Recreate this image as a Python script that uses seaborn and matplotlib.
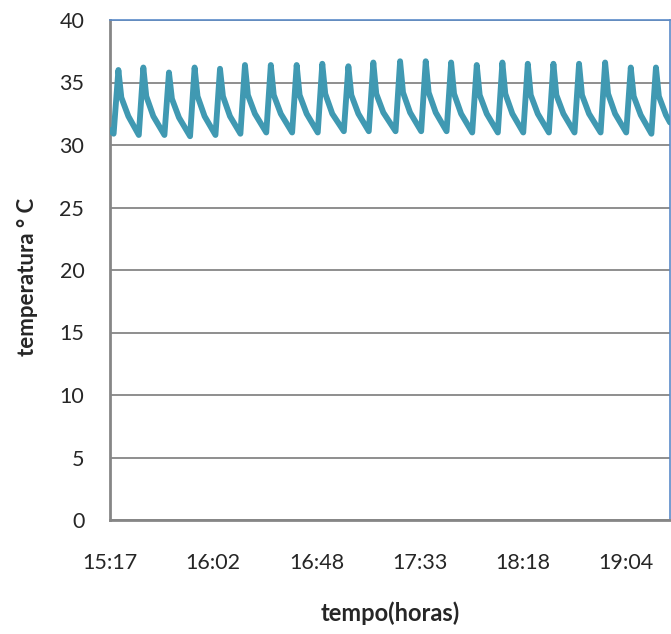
import matplotlib
matplotlib.use("Agg")
import matplotlib.pyplot as plt
import seaborn as sns
import pandas as pd

# minutes after 15:17
minutes = [
    0.0, 1.6,
    3.7, 5.0, 8.1, 12.7,
    14.7, 16.0, 19.1, 24.0,
    26.0, 27.3, 30.4, 35.3,
    37.3, 38.6, 41.7, 46.5,
    48.5, 49.8, 52.9, 57.5,
    59.5, 60.8, 63.9, 68.9,
    70.9, 72.2, 75.3, 80.3,
    82.3, 83.6, 86.7, 91.6,
    93.6, 94.9, 98.0, 103.1,
    105.1, 106.4, 109.5, 114.1,
    116.1, 117.4, 120.5, 125.9,
    127.9, 129.2, 132.3, 137.2,
    139.2, 140.5, 143.6, 148.4,
    150.4, 151.7, 154.8, 159.7,
    161.7, 163.0, 166.1, 171.0,
    173.0, 174.3, 177.4, 182.2,
    184.2, 185.5, 188.6, 193.5,
    195.5, 196.8, 199.9, 204.8,
    206.8, 208.1, 211.2, 216.3,
    218.3, 219.6, 222.7, 227.6,
    229.6, 230.9, 234.0, 238.7,
    240.7, 242.0, 245.1, 246.9,
]
temperatura = [
    31.2, 30.9,
    36.0, 33.8, 32.3, 30.8,
    36.2, 33.9, 32.3, 30.8,
    35.8, 33.7, 32.2, 30.7,
    36.2, 33.9, 32.3, 30.8,
    36.1, 33.9, 32.3, 30.9,
    36.4, 34.0, 32.5, 31.0,
    36.4, 34.0, 32.5, 31.0,
    36.4, 34.0, 32.5, 31.0,
    36.5, 34.1, 32.5, 31.1,
    36.3, 34.0, 32.5, 31.1,
    36.6, 34.1, 32.6, 31.1,
    36.7, 34.2, 32.6, 31.1,
    36.7, 34.2, 32.6, 31.1,
    36.6, 34.1, 32.5, 31.0,
    36.4, 34.0, 32.5, 31.0,
    36.6, 34.1, 32.5, 31.0,
    36.5, 34.0, 32.5, 31.0,
    36.5, 34.0, 32.5, 31.0,
    36.5, 34.0, 32.5, 31.0,
    36.6, 34.1, 32.5, 31.0,
    36.2, 33.9, 32.4, 30.9,
    36.2, 33.9, 32.4, 31.8,
]
tick_pos = [0, 45.5, 91, 136.5, 182, 227.5]
tick_labels = ["15:17", "16:02", "16:48", "17:33", "18:18", "19:04"]
y_ticks = [0, 5, 10, 15, 20, 25, 30, 35, 40]

df = pd.DataFrame({"t": minutes, "temp": temperatura})

sns.set_style("white")
plt.rcParams["font.family"] = ["Lato", "DejaVu Sans"]

fig = plt.figure(figsize=(6.71, 6.34), dpi=100)
ax = fig.add_axes([110 / 671, 1 - 520 / 634, 560 / 671, 500 / 634])

sns.lineplot(data=df, x="t", y="temp", ax=ax, color="#4099B2", linewidth=4.2,
             solid_joinstyle="round", zorder=3)

ax.set_xlim(0, 246.9)
ax.set_ylim(0, 40)
ax.set_yticks(y_ticks)
ax.set_yticklabels([str(v) for v in y_ticks], fontsize=15.5)
ax.set_xticks(tick_pos)
ax.set_xticklabels(tick_labels, fontsize=15.5)

ax.grid(axis="y", color="#868686", linewidth=1.3, zorder=0)
ax.grid(axis="x", visible=False)

ax.tick_params(axis="y", length=0, pad=18.5)
ax.tick_params(axis="x", direction="in", length=7, width=1.5, color="#A0A0A0", pad=24)

for s in ["left", "bottom"]:
    ax.spines[s].set_color("#868686")
    ax.spines[s].set_linewidth(2)
for s in ["top", "right"]:
    ax.spines[s].set_color("#5B8BC9")
    ax.spines[s].set_linewidth(1.2)

ax.set_xlabel("tempo(horas)", fontsize=17, fontweight="bold", labelpad=20)
ax.set_ylabel("temperatura ° C", fontsize=16, fontweight="bold")
ax.yaxis.set_label_coords(-0.129, 0.486)

fig.savefig("out.png", dpi=100)
